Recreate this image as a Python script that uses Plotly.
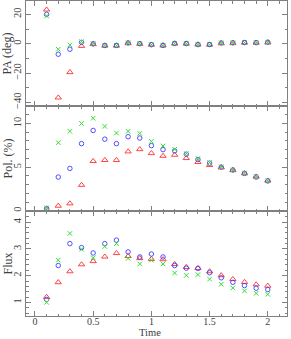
import plotly.graph_objects as go

time = [0.1, 0.2, 0.3, 0.4, 0.5, 0.6, 0.7, 0.8, 0.9, 1.0,
        1.1, 1.2, 1.3, 1.4, 1.5, 1.6, 1.7, 1.8, 1.9, 2.0]

pa_red = [23.2, -36.8, -19.5, -1.6, -0.4, -1.4, -1.4, 0.3, -0.2, -0.8,
          -1.2, 0.0, 0.0, -0.6, -0.8, 0.2, 0.3, 0.6, 0.6, 0.8]
pa_blue = [20.0, -7.2, -3.8, 0.9, -0.1, -1.2, -1.2, 0.5, 0.0, -0.7,
           -1.2, 0.2, 0.1, -0.6, -0.6, 0.5, 0.6, 0.8, 0.7, 1.0]
pa_green = [18.9, -3.8, -0.9, 1.4, 0.0, -1.2, -1.2, 0.5, 0.0, -0.7,
            -1.2, 0.2, 0.1, -0.6, -0.6, 0.5, 0.6, 0.8, 0.7, 1.0]

pol_red = [0.15, 0.56, 0.83, 2.95, 5.68, 5.8, 5.8, 6.78, 7.04, 6.59,
           6.28, 6.4, 6.02, 5.57, 5.23, 4.95, 4.66, 4.28, 3.9, 3.44]
pol_blue = [0.27, 3.86, 4.85, 7.69, 9.2, 8.2, 7.69, 8.48, 8.33, 7.46,
            7.0, 6.86, 6.48, 5.87, 5.45, 5.0, 4.66, 4.28, 3.86, 3.41]
pol_green = [0.34, 7.8, 9.1, 10.0, 10.6, 9.66, 8.9, 9.1, 8.86, 7.95,
             7.42, 7.04, 6.55, 5.98, 5.53, 5.03, 4.66, 4.32, 3.9, 3.44]

flux_red = [1.2, 1.75, 2.16, 2.42, 2.54, 2.71, 2.84, 2.73, 2.65, 2.62,
            2.61, 2.43, 2.32, 2.28, 2.16, 2.01, 1.87, 1.76, 1.67, 1.62]
flux_blue = [1.11, 2.38, 3.2, 3.05, 2.85, 3.2, 3.33, 2.89, 2.7, 2.81,
             2.7, 2.38, 2.28, 2.27, 2.11, 1.92, 1.75, 1.63, 1.53, 1.48]
flux_green = [1.0, 2.58, 3.58, 2.99, 2.67, 3.09, 3.2, 2.65, 2.44, 2.58,
              2.44, 2.1, 2.01, 2.04, 1.87, 1.68, 1.54, 1.43, 1.34, 1.3]

x_ticks = [0, 0.5, 1, 1.5, 2]
x_tick_text = ["0", "0.5", "1", "1.5", "2"]
pa_ticks = [-40, -20, 0, 20]
pol_ticks = [0, 5, 10]
flux_ticks = [1, 2, 3, 4]

RED = "#ff3030"
BLUE = "#4040ff"
GREEN = "#30e030"
FRAME = "#808080"
TEXT = "#404040"
FONT = "Liberation Serif"

fig = go.Figure()

panels = [
    (pa_red, pa_blue, pa_green, "x", "y"),
    (pol_red, pol_blue, pol_green, "x2", "y2"),
    (flux_red, flux_blue, flux_green, "x3", "y3"),
]
for r, b, g, xa, ya in panels:
    fig.add_trace(go.Scatter(x=time, y=r, mode="markers", xaxis=xa, yaxis=ya,
                             marker=dict(symbol="triangle-up-open", size=5.5, color=RED,
                                         line=dict(width=0.9, color=RED)),
                             showlegend=False))
    fig.add_trace(go.Scatter(x=time, y=b, mode="markers", xaxis=xa, yaxis=ya,
                             marker=dict(symbol="circle-open", size=4.5, color=BLUE,
                                         line=dict(width=0.9, color=BLUE)),
                             showlegend=False))
    fig.add_trace(go.Scatter(x=time, y=g, mode="markers", xaxis=xa, yaxis=ya,
                             marker=dict(symbol="x-thin-open", size=4.5, color=GREEN,
                                         line=dict(width=1, color=GREEN)),
                             showlegend=False))

xr = [-0.077, 2.165]
h = 1.0 / 3.0

def xaxis(anchor, labels):
    return dict(range=xr, anchor=anchor, domain=[0, 1], showline=True, mirror="allticks",
                linecolor=FRAME, linewidth=1, ticks="inside", ticklen=5, tickcolor=FRAME,
                tickvals=x_ticks, ticktext=x_tick_text, showticklabels=labels,
                ticklabelstandoff=-4,
                minor=dict(dtick=0.1, tick0=0, ticks="inside", ticklen=2.5, tickcolor=FRAME),
                showgrid=False, zeroline=False, automargin=False,
                tickfont=dict(family=FONT, size=10, color=TEXT))

def yaxis(anchor, dom, rng, tv, mdt):
    return dict(range=rng, anchor=anchor, domain=dom, showline=True, mirror="allticks",
                linecolor=FRAME, linewidth=1, ticks="inside", ticklen=5, tickcolor=FRAME,
                tickvals=tv, tickangle=-90, automargin=False,
                minor=dict(dtick=mdt, ticks="inside", ticklen=2.5, tickcolor=FRAME),
                showgrid=False, zeroline=False,
                tickfont=dict(family=FONT, size=10.5, color=TEXT))

L, R, T, B = 26, 4, 1, 23
W, H = 291, 339
pw = W - L - R
ph = H - T - B

def px_x(px):
    return (px - L) / pw

def px_y(py):
    return 1 - (py - T) / ph

fig.update_layout(
    width=W, height=H,
    margin=dict(l=L, r=R, t=T, b=B),
    paper_bgcolor="white", plot_bgcolor="white",
    xaxis=xaxis("y", False),
    xaxis2=xaxis("y2", False),
    xaxis3=xaxis("y3", True),
    yaxis=yaxis("x", [2 * h, 1], [-42.5, 29.1], pa_ticks, 10),
    yaxis2=yaxis("x2", [h, 2 * h], [-0.03, 12.0], pol_ticks, 1),
    yaxis3=yaxis("x3", [0, h], [0.49, 4.42], flux_ticks, 0.2),
)

titles = [("PA (deg)", 5 / 6), ("Pol. (%)", 0.5), ("Flux", 1 / 6)]
for txt, yc in titles:
    fig.add_annotation(text=txt, xref="paper", yref="paper", x=px_x(7), y=yc,
                       textangle=-90, showarrow=False, xanchor="center", yanchor="middle",
                       font=dict(family=FONT, size=12, color=TEXT))
fig.add_annotation(text="Time", xref="paper", yref="paper", x=px_x(150), y=px_y(339),
                   showarrow=False, xanchor="center", yanchor="bottom", borderpad=0,
                   font=dict(family=FONT, size=10.5, color=TEXT))

fig.write_html("out.html", config={"displayModeBar": False},
               post_script="document.body.style.margin='0';document.body.style.overflow='hidden';")
